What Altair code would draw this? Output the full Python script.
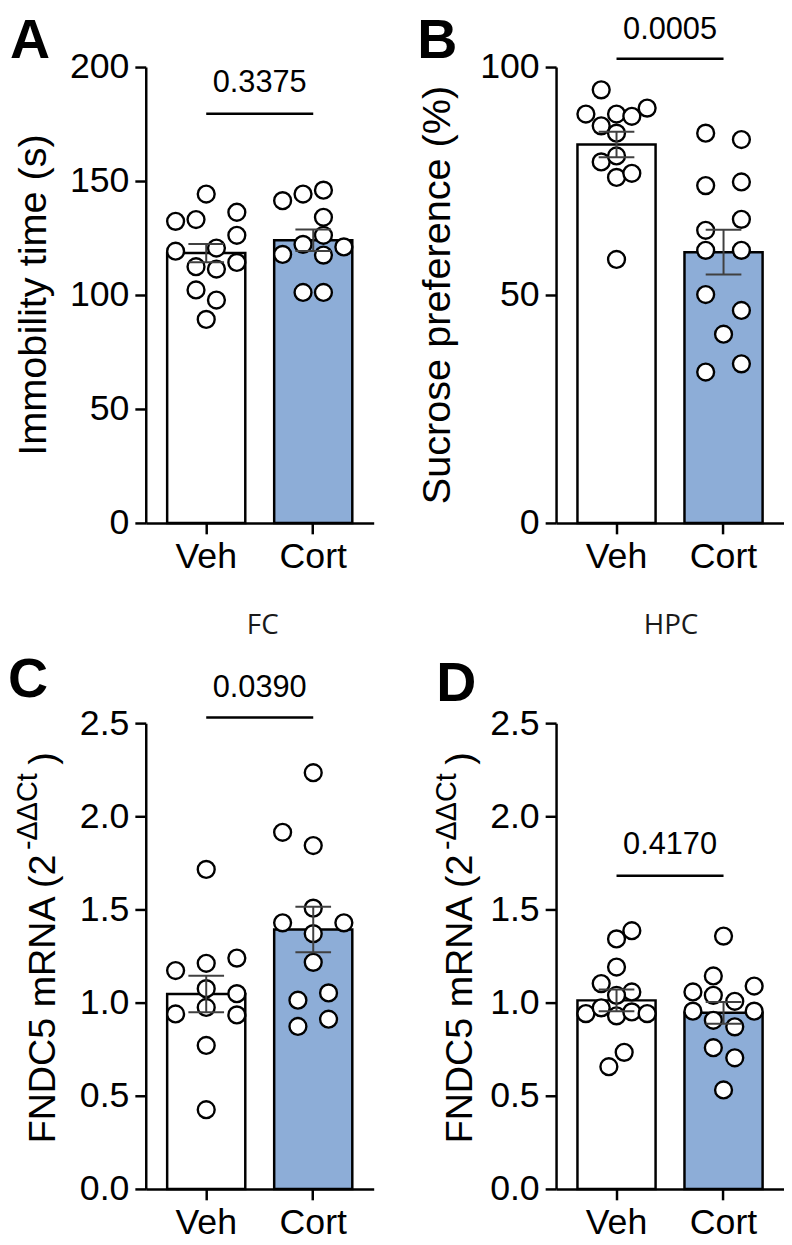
import altair as alt
import pandas as pd

GROUPS = ["Veh", "Cort"]
BAR_FILL = ["#ffffff", "#8dadd7"]

# ---- Panel A: immobility time (s) ----
A_VEH = [144.3, 132.3, 133.1, 136.3, 126.2, 119.2, 120.6, 112.4, 111.4, 114.3, 102.2, 97.8, 89.3]
A_VEH_COL = [0, -3, -1, 3, 3, -3, 1, -1, 1, 3, -1, 1, 0]
A_CORT = [141.4, 144.3, 146.0, 134.1, 126.2, 122.2, 117.8, 117.5, 121.1, 101.1, 101.1]
A_CORT_COL = [-3, -1, 1, 1, 1, -1, -3, 1, 3, -1, 1]
A_MEAN = [118.4, 124.0]
A_SEM = [4.0, 4.7]
A_P = "0.3375"
A_P_LINE = 179.5
A_P_TEXT = 193.0

# ---- Panel B: sucrose preference (%) ----
B_VEH = [95.0, 89.7, 89.7, 89.2, 91.0, 87.1, 85.5, 79.2, 80.5, 75.8, 76.7, 57.8]
B_VEH_COL = [-1.5, -3, 0, 1.5, 3, -1.5, 0, -1.5, 0, 0, 1.5, 0]
B_CORT = [85.5, 84.1, 74.0, 74.8, 66.6, 64.2, 59.8, 59.8, 50.1, 46.6, 41.4, 33.1, 34.9]
B_CORT_COL = [-1.75, 1.75, -1.75, 1.75, 1.75, -1.75, -1.75, 1.75, -1.75, 1.75, 0, -1.75, 1.75]
B_MEAN = [83.0, 59.4]
B_SEM = [2.8, 4.9]
B_P = "0.0005"
B_P_LINE = 101.8
B_P_TEXT = 108.0

# ---- Panel C: FNDC5 mRNA, FC ----
C_VEH = [1.715, 1.172, 1.211, 1.239, 1.075, 1.048, 0.939, 0.974, 0.934, 0.770, 0.425]
C_VEH_COL = [0, -3, 0, 3, 0, 3, -3, 0, 3, 0, 0]
C_CORT = [2.234, 1.914, 1.843, 1.507, 1.428, 1.428, 1.370, 1.216, 1.013, 1.052, 0.872, 0.911]
C_CORT_COL = [0, -3, 0, 0, -3, 3, 0, 0, -1.5, 1.5, -1.5, 1.5]
C_MEAN = [1.046, 1.392]
C_SEM = [0.098, 0.122]
C_P = "0.0390"
C_P_LINE = 2.530
C_P_TEXT = 2.69

# ---- Panel D: FNDC5 mRNA, HPC ----
D_VEH = [1.386, 1.342, 1.191, 1.102, 1.057, 1.039, 0.941, 0.972, 0.929, 0.950, 0.941, 0.733, 0.656]
D_VEH_COL = [1.5, 0, 0, -1.5, 1.5, 0, -3, -1.5, 0, 1.5, 3, 0.75, -0.75]
D_CORT = [1.357, 1.143, 1.089, 1.057, 1.039, 1.007, 0.954, 0.954, 0.905, 0.870, 0.758, 0.704, 0.531]
D_CORT_COL = [0, -1, 3, -3, -1, 1.1, -3, 3, -1, 1.1, -1, 1.1, 0]
D_MEAN = [1.012, 0.945]
D_SEM = [0.058, 0.058]
D_P = "0.4170"
D_P_LINE = 1.681
D_P_TEXT = 1.844

# ---- style / layout ----
FONT = "Liberation Sans, Arial, Helvetica, sans-serif"
W = 230
H1 = 460
H2 = 470
PAD_IN, PAD_OUT = 0.27, 0.2
STEP = W / (2 - PAD_IN + 2 * PAD_OUT)
BW = STEP * (1 - PAD_IN)
SLOT_PX = 10.3
ERR_COLOR = "#404040"


def txt(s, x, y, size, angle=0, align="left", baseline="alphabetic",
        weight="normal", font=FONT, color="black"):
    kw = dict(text=s, fontSize=size, align=align, baseline=baseline,
              fontWeight=weight, font=font, color=color)
    if angle:
        kw["angle"] = angle
    return alt.Chart(pd.DataFrame({"k": [0]})).mark_text(**kw).encode(
        x=alt.value(x), y=alt.value(y))


def panel(veh, veh_col, cort, cort_col, means, sems, ymax, yticks, fmt,
          p_txt, p_line, p_txt_y, H, annotations):
    pts = pd.DataFrame({
        "group": ["Veh"] * len(veh) + ["Cort"] * len(cort),
        "value": veh + cort,
        "slot": veh_col + cort_col,
    })
    bars = pd.DataFrame({
        "group": GROUPS,
        "mean": means,
        "lo": [m - s for m, s in zip(means, sems)],
        "hi": [m + s for m, s in zip(means, sems)],
    })
    sig = pd.DataFrame({"group": GROUPS, "y": [p_line, p_line]})
    sigt = pd.DataFrame({"group": ["Veh"], "y": [p_txt_y], "t": [p_txt]})

    xs = alt.Scale(domain=GROUPS, paddingInner=PAD_IN, paddingOuter=PAD_OUT)
    ys = alt.Scale(domain=[0, ymax], nice=False, zero=True)
    xax = alt.Axis(title=None, labelAngle=0, labelFontSize=36, labelFont=FONT,
                   labelColor="black", labelPadding=6, tickSize=11,
                   tickWidth=2.5, tickColor="black", domainWidth=2.5,
                   domainColor="black", grid=False)
    yax = alt.Axis(title=None, values=yticks, format=fmt, labelFontSize=36,
                   labelFont=FONT, labelColor="black", labelPadding=6,
                   tickSize=11, tickWidth=2.5, tickColor="black",
                   domainWidth=2.5, domainColor="black", grid=False)
    X = alt.X("group:N", scale=xs, axis=xax, sort=GROUPS)

    bar = alt.Chart(bars).mark_bar(stroke="black", strokeWidth=2.5,
                                   width=BW).encode(
        x=X,
        y=alt.Y("mean:Q", scale=ys, axis=yax),
        fill=alt.Fill("group:N", scale=alt.Scale(domain=GROUPS, range=BAR_FILL),
                      legend=None),
    )
    dots = alt.Chart(pts).mark_circle(size=290, color="white", stroke="black",
                                      strokeWidth=2.4, opacity=1).encode(
        x=X,
        xOffset=alt.XOffset("slot:Q", scale=alt.Scale(
            domain=[-4, 4], range=[BW / 2 - 4 * SLOT_PX, BW / 2 + 4 * SLOT_PX])),
        y=alt.Y("value:Q", scale=ys),
    )
    err = alt.Chart(bars).mark_rule(color=ERR_COLOR, strokeWidth=2).encode(
        x=X, y=alt.Y("lo:Q", scale=ys), y2="hi:Q")
    cap_hi = alt.Chart(bars).mark_tick(color=ERR_COLOR, size=36, thickness=2,
                                       opacity=1).encode(
        x=X, y=alt.Y("hi:Q", scale=ys))
    cap_lo = alt.Chart(bars).mark_tick(color=ERR_COLOR, size=36, thickness=2,
                                       opacity=1).encode(
        x=X, y=alt.Y("lo:Q", scale=ys))
    sline = alt.Chart(sig).mark_line(color="black", strokeWidth=2.5).encode(
        x=X, y=alt.Y("y:Q", scale=ys))
    stext = alt.Chart(sigt).mark_text(fontSize=31, font=FONT, color="black",
                                      align="center", baseline="middle",
                                      dx=STEP / 2).encode(
        x=X, y=alt.Y("y:Q", scale=ys), text="t:N")

    layers = [bar, dots, err, cap_hi, cap_lo, sline, stext] + annotations
    return alt.layer(*layers).properties(width=W, height=H)


def fndc5_title(x_main, x_sup, H):
    return [
        txt("FNDC5 mRNA (2", x_main, H - 46, 38, angle=270, baseline="middle"),
        txt("-\u0394\u0394Ct", x_sup, H - 342, 29, angle=270, baseline="middle"),
        txt(")", x_main, H - 428, 38, angle=270, baseline="middle"),
    ]


pA = panel(A_VEH, A_VEH_COL, A_CORT, A_CORT_COL, A_MEAN, A_SEM, 200,
           [0, 50, 100, 150, 200], "d", A_P, A_P_LINE, A_P_TEXT, H1, [
               txt("A", -137, -9, 56, weight="bold"),
               txt("Immobility time (s)", -113, H1 / 2, 40, angle=270,
                   align="center", baseline="middle"),
           ])
pB = panel(B_VEH, B_VEH_COL, B_CORT, B_CORT_COL, B_MEAN, B_SEM, 100,
           [0, 50, 100], "d", B_P, B_P_LINE, B_P_TEXT, H1, [
               txt("B", -140, -9, 56, weight="bold"),
               txt("Sucrose preference (%)", -119, H1 / 2, 40, angle=270,
                   align="center", baseline="middle"),
           ])
pC = panel(C_VEH, C_VEH_COL, C_CORT, C_CORT_COL, C_MEAN, C_SEM, 2.5,
           [0, 0.5, 1.0, 1.5, 2.0, 2.5], ".1f", C_P, C_P_LINE, C_P_TEXT, H2, [
               txt("C", -139, -26, 56, weight="bold"),
               txt("FC", W / 2 + 3, -98, 28, align="center", baseline="middle",
                   font="Open Sans", color="#1a1a1a"),
           ] + fndc5_title(-103, -119, H2))
pD = panel(D_VEH, D_VEH_COL, D_CORT, D_CORT_COL, D_MEAN, D_SEM, 2.5,
           [0, 0.5, 1.0, 1.5, 2.0, 2.5], ".1f", D_P, D_P_LINE, D_P_TEXT, H2, [
               txt("D", -121, -22, 56, weight="bold"),
               txt("HPC", W / 2 + 1, -98, 28, align="center", baseline="middle",
                   font="Open Sans", color="#1a1a1a"),
           ] + fndc5_title(-96, -110, H2))

chart = alt.concat(pA, pB, pC, pD, columns=2,
                   spacing={"row": 38, "column": 44}).properties(
    padding=0, background="white").configure_view(stroke=None)

chart.save("out.html", embed_options={"renderer": "svg", "actions": False})
